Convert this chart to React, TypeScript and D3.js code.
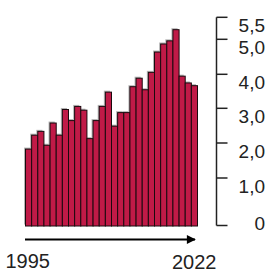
import * as d3 from "d3";

// values, one per year 1995..2022
const years = d3.range(1995, 2023).map(String);
const values = [
  1.84, 2.24, 2.35, 1.95, 2.59, 2.24, 2.98, 2.66, 3.07, 2.96, 2.14, 2.66, 3.07, 3.49,
  2.5, 2.89, 2.89, 3.65, 3.9, 3.56, 4.07, 4.65, 4.88, 4.97, 5.23, 3.96, 3.76, 3.68,
];
const tickValues = [0, 1, 2, 3, 4, 5, 5.5];
const tickLabels = ["0", "1,0", "2,0", "3,0", "4,0", "5,0", "5,5"];
const startLabel = "1995";
const endLabel = "2022";

const W = 277;
const H = 275;

export default function App() {
  const x = d3.scaleBand<string>().domain(years).range([25, 197]).padding(0);
  // the printed axis is not quite linear at its ends
  const y = d3
    .scaleLinear()
    .domain([0, 1, 2, 3, 4, 5, 5.5])
    .range([225.5, 178, 143, 108.3, 74.3, 39.3, 17.3]);

  const axisX = 216.5;
  const font = "'Liberation Sans', Arial, sans-serif";
  const ink = "#222";

  return (
    <svg
      width={W}
      height={H}
      style={{ position: "absolute", left: 0, top: 0 }}
      fontFamily={font}
    >
      <defs>
        <marker
          id="head"
          viewBox="0 0 10 10"
          refX="9"
          refY="5"
          markerWidth="6"
          markerHeight="4.5"
          orient="auto"
          markerUnits="strokeWidth"
        >
          <path d="M0,0 L10,5 L0,10 z" fill="#000" />
        </marker>
      </defs>

      {/* bar shadows */}
      <g fill="#777" opacity={0.55}>
        {values.map((v, i) => (
          <rect
            key={"s" + i}
            x={x(years[i])! - 1}
            y={y(v) - 1}
            width={x.bandwidth()}
            height={y(0) - y(v)}
          />
        ))}
      </g>

      {/* bars */}
      <g fill="#c01a47" stroke="#1a0a0e" strokeWidth={1}>
        {values.map((v, i) => (
          <rect
            key={i}
            x={x(years[i])! + 0.5}
            y={y(v) + 0.5}
            width={x.bandwidth()}
            height={y(0) - y(v)}
          />
        ))}
      </g>

      {/* right axis */}
      <g stroke={ink} strokeWidth={1.5} fill="none">
        <line x1={axisX} x2={axisX} y1={y(5.5)} y2={y(0)} />
        {tickValues.map((t) => (
          <line key={t} x1={axisX} x2={axisX + 11} y1={y(t)} y2={y(t)} />
        ))}
      </g>
      <g fontSize={19} fill={ink} textAnchor="end">
        {tickValues.map((t, i) => (
          <text key={t} x={265} y={t === 0 ? y(t) + 4.5 : y(t) + 14.5}>
            {tickLabels[i]}
          </text>
        ))}
      </g>

      {/* time arrow */}
      <line
        x1={x.range()[0]}
        x2={x.range()[1] - 2}
        y1={239.5}
        y2={239.5}
        stroke="#000"
        strokeWidth={2}
        markerEnd="url(#head)"
      />
      <text x={5.5} y={267.5} fontSize={20} fill={ink}>
        {startLabel}
      </text>
      <text x={216.5} y={269} fontSize={20} fill={ink} textAnchor="end">
        {endLabel}
      </text>
    </svg>
  );
}
